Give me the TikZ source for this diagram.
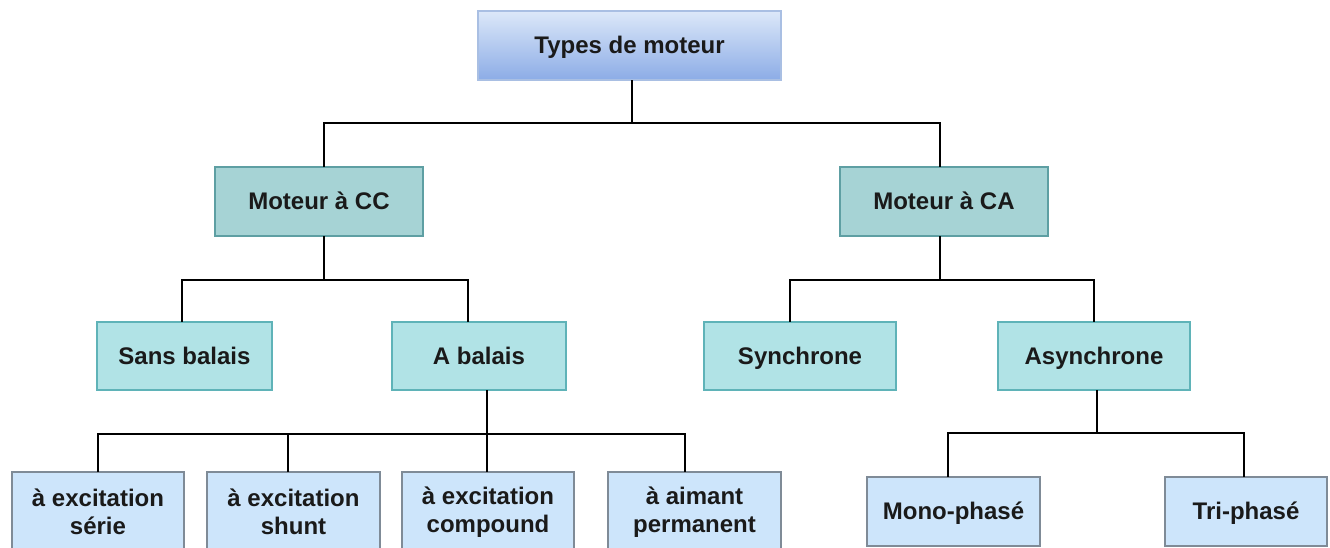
\documentclass[tikz,border=0pt]{standalone}
\usepackage{fontspec}
\setmainfont{Liberation Sans}
\definecolor{topA}{HTML}{DCE8F9}
\definecolor{topB}{HTML}{8CACE6}
\definecolor{topEdge}{HTML}{A9BFE3}
\definecolor{lvTwo}{HTML}{A6D3D5}
\definecolor{lvTwoEdge}{HTML}{5E9FA3}
\definecolor{lvThree}{HTML}{B1E3E6}
\definecolor{lvThreeEdge}{HTML}{5FB3B8}
\definecolor{lvFour}{HTML}{CDE5FB}
\definecolor{lvFourEdge}{HTML}{7F8B97}
\definecolor{ink}{HTML}{1A1A1A}
\tikzset{
  box/.style={rectangle, inner sep=0pt, outer sep=0pt, line width=1.4pt,
    align=center, text=ink, font=\bfseries\fontsize{24}{28}\selectfont},
  oneline/.style={text height=20pt, text depth=3.5pt},
  topbox/.style={box, oneline, draw=topEdge, top color=topA, bottom color=topB,
    minimum width=303, minimum height=69},
  mainbox/.style={box, oneline, draw=lvTwoEdge, fill=lvTwo, minimum width=208, minimum height=69},
  subbox/.style={box, oneline, draw=lvThreeEdge, fill=lvThree, minimum height=68},
  leafbox/.style={box, draw=lvFourEdge, fill=lvFour},
  conn/.style={draw=black, line width=2pt}
}
\begin{document}
\begin{tikzpicture}[x=1pt, y=-1pt]
\useasboundingbox (0,0) rectangle (1330,547);
\clip (0,0) rectangle (1330,547);

% root
\node[topbox] (root) at (629.5,45.5) {Types de moteur};

% DC / AC
\node[mainbox] (cc) at (319,201.5) {Moteur à CC};
\node[mainbox] (ca) at (944,201.5) {Moteur à CA};

% third level
\node[subbox, minimum width=175] (sb) at (184.5,356) {Sans balais};
\node[subbox, minimum width=174] (ab) at (479,356) {A balais};
\node[subbox, minimum width=192] (sy) at (800,356) {Synchrone};
\node[subbox, minimum width=192] (as) at (1094,356) {Asynchrone};

% brushed DC variants
\node[leafbox, minimum width=172, minimum height=80] (ex1) at (98,512) {à excitation\\série};
\node[leafbox, minimum width=173, minimum height=80] (ex2) at (293.5,512) {à excitation\\shunt};
\node[leafbox, minimum width=172, minimum height=80] (ex3) at (488,512) {à excitation\\compound};
\node[leafbox, minimum width=173, minimum height=80] (am) at (694.5,512) {à aimant\\permanent};

% induction motor variants
\node[leafbox, oneline, minimum width=173, minimum height=69] (mono) at (953.5,511.5) {Mono-phasé};
\node[leafbox, oneline, minimum width=162, minimum height=69] (tri) at (1246,511.5) {Tri-phasé};

% connectors
\draw[conn] ([xshift=2.5]root.south) -- ++(0,43) coordinate (j0);
\draw[conn] (j0) -| ([xshift=5]cc.north);
\draw[conn] (j0) -| ([xshift=-4]ca.north);

\draw[conn] ([xshift=5]cc.south) -- ++(0,44) coordinate (j1);
\draw[conn] (j1) -| ([xshift=-2.5]sb.north);
\draw[conn] (j1) -| ([xshift=-11]ab.north);

\draw[conn] ([xshift=-4]ca.south) -- ++(0,44) coordinate (j2);
\draw[conn] (j2) -| ([xshift=-10]sy.north);
\draw[conn] (j2) -| (as.north);

\draw[conn] ([xshift=8]ab.south) -- ++(0,44) coordinate (j3);
\draw[conn] (j3) -| (ex1.north);
\draw[conn] (j3) -| ([xshift=-5.5]ex2.north);
\draw[conn] (j3) -| ([xshift=-1]ex3.north);
\draw[conn] (j3) -| ([xshift=-9.5]am.north);

\draw[conn] ([xshift=3]as.south) -- ++(0,43) coordinate (j4);
\draw[conn] (j4) -| ([xshift=-5.5]mono.north);
\draw[conn] (j4) -| ([xshift=-2]tri.north);
\end{tikzpicture}
\end{document}
